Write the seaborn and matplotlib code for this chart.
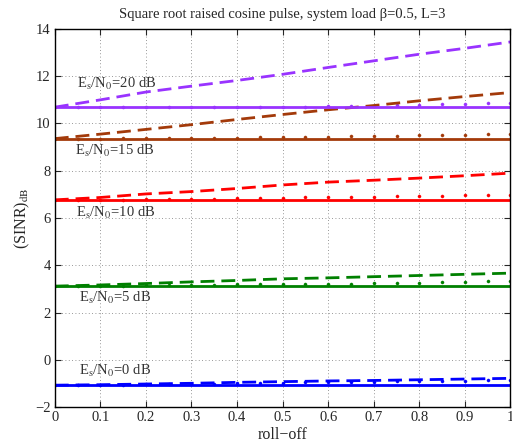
import numpy as np
import pandas as pd
import seaborn as sns
import matplotlib
matplotlib.use("Agg")
import matplotlib.pyplot as plt

# roll-off grid
roll_coarse = [0.0, 0.1, 0.2, 0.3, 0.4, 0.5, 0.6, 0.7, 0.8, 0.9, 1.0]
roll_fine = [0.0, 0.05, 0.1, 0.15, 0.2, 0.25, 0.3, 0.35, 0.4, 0.45, 0.5,
             0.55, 0.6, 0.65, 0.7, 0.75, 0.8, 0.85, 0.9, 0.95, 1.0]

snr_labels = ["0 dB", "5 dB", "10 dB", "15 dB", "20 dB"]
colors = ["#0000ff", "#008000", "#ff0000", "#a33a0a", "#9933ff"]

# solid (flat) level per Es/N0
solid = [-1.07, 3.12, 6.77, 9.36, 10.69]

# dashed curves at roll_coarse
dashed_0 = [-1.07, -1.05, -1.02, -0.99, -0.95, -0.92, -0.89, -0.87, -0.84, -0.81, -0.78]
dashed_5 = [3.12, 3.17, 3.23, 3.30, 3.36, 3.43, 3.47, 3.52, 3.57, 3.62, 3.67]
dashed_10 = [6.77, 6.87, 7.02, 7.12, 7.25, 7.40, 7.52, 7.60, 7.69, 7.79, 7.90]
dashed_15 = [9.36, 9.55, 9.75, 9.95, 10.17, 10.38, 10.58, 10.76, 10.96, 11.14, 11.31]
dashed_20 = [10.69, 11.00, 11.33, 11.58, 11.82, 12.08, 12.37, 12.65, 12.93, 13.18, 13.45]

# dotted markers at roll_fine
dots_0 = [-1.07, -1.07, -1.06, -1.05, -1.04, -1.03, -1.01, -1.00, -0.99, -0.97, -0.96,
          -0.95, -0.94, -0.93, -0.92, -0.91, -0.90, -0.89, -0.88, -0.87, -0.86]
dots_5 = [3.12, 3.12, 3.13, 3.14, 3.15, 3.16, 3.17, 3.18, 3.19, 3.20, 3.21,
          3.21, 3.22, 3.23, 3.24, 3.25, 3.27, 3.28, 3.30, 3.32, 3.34]
dots_10 = [6.77, 6.77, 6.78, 6.78, 6.79, 6.80, 6.81, 6.82, 6.83, 6.84, 6.86,
           6.87, 6.88, 6.89, 6.91, 6.92, 6.93, 6.95, 6.96, 6.98, 6.99]
dots_15 = [9.36, 9.36, 9.36, 9.37, 9.37, 9.38, 9.38, 9.39, 9.40, 9.41, 9.42,
           9.43, 9.44, 9.45, 9.47, 9.48, 9.50, 9.51, 9.53, 9.55, 9.57]
dots_20 = [10.69, 10.69, 10.69, 10.69, 10.69, 10.69, 10.69, 10.69, 10.69, 10.70, 10.70,
           10.71, 10.73, 10.74, 10.76, 10.78, 10.80, 10.82, 10.84, 10.86, 10.88]

dashed = [dashed_0, dashed_5, dashed_10, dashed_15, dashed_20]
dots = [dots_0, dots_5, dots_10, dots_15, dots_20]

# label anchor (x, baseline y) for each Es/N0 text
label_x = [0.053, 0.053, 0.046, 0.044, 0.048]
label_y = [-0.63, 2.47, 6.04, 8.67, 11.52]

sns.set_style("ticks")
plt.rcParams["font.family"] = ["Liberation Serif", "DejaVu Serif"]
plt.rcParams["mathtext.fontset"] = "stix"

fig, ax = plt.subplots(figsize=(5.12, 4.45), dpi=100)
fig.subplots_adjust(left=0.107, right=0.997, bottom=0.085, top=0.935)

for k in range(len(snr_labels)):
    c = colors[k]
    sns.lineplot(x=roll_fine, y=[solid[k]] * len(roll_fine), ax=ax, color=c, lw=2)
    sns.lineplot(x=roll_coarse, y=dashed[k], ax=ax, color=c, lw=2,
                 linestyle=(0, (5, 2.5)))
    sns.scatterplot(x=roll_fine, y=dots[k], ax=ax, color=c, marker="o", s=5,
                    edgecolor=c, linewidth=0.3)
    ax.text(label_x[k], label_y[k],
            "E$_{\\mathrm{s}}$/N$_{0}$=" + snr_labels[k],
            fontsize=10.5, color="#333333", va="baseline", ha="left")

ax.set_xlim(0, 1)
ax.set_ylim(-2, 14)
ax.set_xticks(roll_coarse)
ax.set_xticklabels(["0", "0.1", "0.2", "0.3", "0.4", "0.5", "0.6", "0.7", "0.8", "0.9", "1"])
ax.set_yticks(range(-2, 15, 2))
ax.set_yticklabels(["\u22122", "0", "2", "4", "6", "8", "10", "12", "14"])
ax.tick_params(direction="in", length=4, width=0.8, top=True, right=True, labelsize=10.5,
               pad=3)
ax.grid(True, linestyle=(0, (1, 3)), color="#777777", lw=0.6)
for s in ax.spines.values():
    s.set_linewidth(1.0)
    s.set_color("black")

ax.set_xlabel("roll\u2212off", fontsize=11.5, labelpad=2)
ax.set_ylabel("(SINR)$_{\\mathrm{dB}}$", fontsize=11.5, labelpad=2)
ax.set_title("Square root raised cosine pulse, system load \u03b2=0.5, L=3", fontsize=10.5, pad=8)

fig.savefig("out.png", dpi=100)
